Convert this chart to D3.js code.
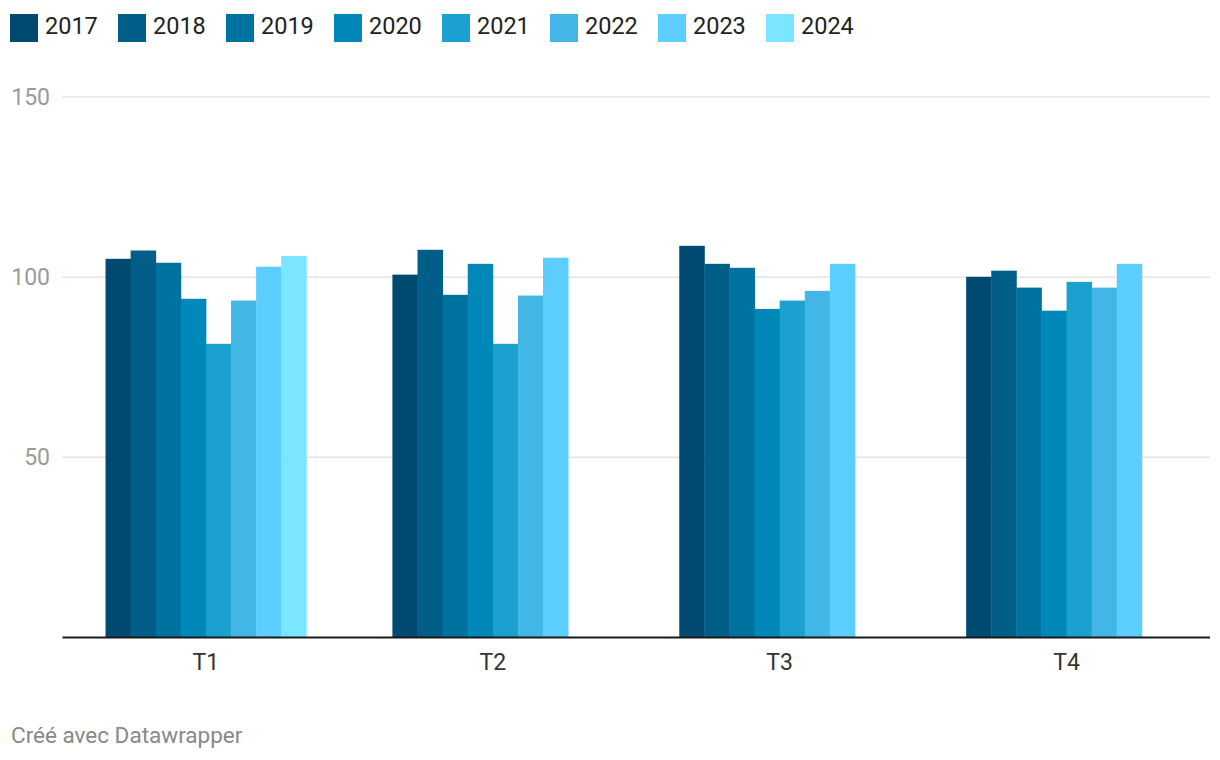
<!DOCTYPE html>
<html>
<head>
<meta charset="utf-8">
<script src="https://cdn.jsdelivr.net/npm/d3@7"></script>
<style>
  html, body { margin: 0; padding: 0; background: #fff; }
  svg { display: block; font-family: Roboto, "Noto Sans", sans-serif; }
</style>
</head>
<body>
<svg id="chart" width="1220" height="760"></svg>
<script>
const categories = ["T1", "T2", "T3", "T4"];
const years = ["2017", "2018", "2019", "2020", "2021", "2022", "2023", "2024"];
const colors = ["#004a72", "#005e89", "#00729f", "#0089b8", "#1aa1cf", "#42b7e5", "#5ccefd", "#7ae6ff"];
const v2017 = [105.1, 100.7, 108.7, 100.1];
const v2018 = [107.4, 107.6, 103.7, 101.8];
const v2019 = [104.0, 95.1, 102.6, 97.1];
const v2020 = [94.0, 103.7, 91.2, 90.7];
const v2021 = [81.5, 81.5, 93.5, 98.7];
const v2022 = [93.5, 94.9, 96.2, 97.1];
const v2023 = [102.9, 105.4, 103.7, 103.7];
const v2024 = [105.9, null, null, null];
const yTicks = [50, 100, 150];
const series = [v2017, v2018, v2019, v2020, v2021, v2022, v2023, v2024];

const svg = d3.select("#chart");
const mLeft = 62.5, mRight = 1210, mTop = 97, mBottom = 637.5;

const x = d3.scaleBand().domain(categories).range([mLeft, mRight]).paddingInner(0.3).paddingOuter(0.15);
const xi = d3.scaleBand().domain(years).range([0, x.bandwidth()]).padding(0);
const y = d3.scaleLinear().domain([0, 150]).range([mBottom, mTop]);

// gridlines
svg.append("g").selectAll("line").data(yTicks).join("line")
  .attr("x1", mLeft).attr("x2", mRight)
  .attr("y1", d => y(d)).attr("y2", d => y(d))
  .attr("stroke", "#e3e3e3").attr("stroke-width", 1.5);

svg.append("g").selectAll("text").data(yTicks).join("text")
  .attr("x", 50).attr("y", d => y(d)).attr("dy", "0.35em")
  .attr("text-anchor", "end").attr("font-size", 23).attr("fill", "#9a9a9a")
  .text(d => d);

// bars
const flat = [];
series.forEach((s, si) => s.forEach((v, ci) => { if (v != null) flat.push({ year: years[si], cat: categories[ci], v, si }); }));
svg.append("g").selectAll("rect").data(flat).join("rect")
  .attr("x", d => x(d.cat) + xi(d.year))
  .attr("width", xi.bandwidth() + 0.4)
  .attr("y", d => y(d.v))
  .attr("height", d => y(0) - y(d.v))
  .attr("fill", d => colors[d.si]);

// baseline
svg.append("line").attr("x1", mLeft).attr("x2", mRight)
  .attr("y1", mBottom).attr("y2", mBottom)
  .attr("stroke", "#1a1a1a").attr("stroke-width", 2);

// x labels
svg.append("g").selectAll("text").data(categories).join("text")
  .attr("x", d => x(d) + x.bandwidth() / 2).attr("y", 670)
  .attr("text-anchor", "middle").attr("font-size", 23).attr("fill", "#333")
  .text(d => d);

// legend
const leg = svg.append("g").selectAll("g").data(years).join("g")
  .attr("transform", (d, i) => `translate(${10 + i * 108},14)`);
leg.append("rect").attr("width", 28).attr("height", 28).attr("fill", (d, i) => colors[i]);
leg.append("text").attr("x", 35).attr("y", 12).attr("dy", "0.35em")
  .attr("font-size", 23.5).attr("fill", "#222").text(d => d);

// footer
svg.append("text").attr("x", 11).attr("y", 743).attr("font-size", 22.5).attr("fill", "#888")
  .text("Créé avec Datawrapper");
</script>
</body>
</html>
